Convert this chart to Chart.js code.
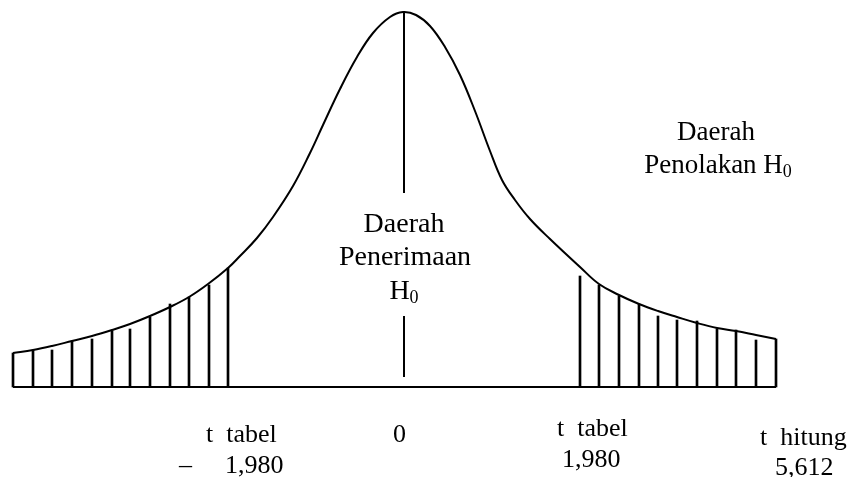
<!DOCTYPE html>
<html>
<head>
<meta charset="utf-8">
<script src="https://cdn.jsdelivr.net/npm/chart.js@4"></script>
<style>
  html, body { margin: 0; padding: 0; background: #fff; }
  #wrap { width: 850px; height: 477px; position: relative; }
</style>
</head>
<body>
<div id="wrap"><canvas id="kurva"></canvas></div>
<script>
// kurva distribusi t (satuan sumbu x = posisi, y = tinggi di atas garis dasar)
const curveX = [13, 33, 52, 72, 92, 112, 130, 150, 170, 189, 208, 228, 240, 257, 273, 293, 310, 323, 340, 357, 373, 390, 403,
                416, 430, 445, 460, 475, 490, 502, 515, 530, 550, 580, 599, 619, 639, 658, 677, 697, 717, 736, 756, 776];
const curveY = [34, 37, 41, 46, 51, 57, 63, 71, 80, 90, 103, 119, 131, 149, 170, 201, 234, 262, 298, 330, 354, 370, 375,
                372, 361, 340, 312, 276, 236, 207, 187, 168, 148, 120, 103, 92, 83, 76, 70, 64, 59, 56, 52, 48];

// garis arsiran daerah penolakan
const hatchX = [13, 33, 52, 72, 92, 112, 130, 150, 170, 189, 209, 228,
                580, 599, 619, 639, 658, 677, 697, 717, 736, 756, 776];
const hatchY = [34, 37, 37, 46, 48, 56, 58, 70, 83, 90, 102, 119,
                111, 102, 91, 83, 71, 67, 66, 58, 57, 47, 48];

// garis dasar dan garis tengah (terputus untuk teks)
const baseX = [13, 776];
const baseY = [0, 0];
const midX = [404, 404, 404, 404];
const midY = [375, 194, 71, 10];

// teks
const regionLabels = ['Daerah', 'Penerimaan', 'H'];
const rejectLabels = ['Daerah', 'Penolakan H'];
const tickTitles = ['t  tabel', '0', 't  tabel', 't  hitung'];
const tickValues = ['1,980', '', '1,980', '5,612'];

const toPts = (xs, ys) => xs.map((x, i) => ({ x: x, y: ys[i] }));
const midPts = toPts(midX, midY);
midPts.splice(2, 0, { x: 404, y: null });

const serif = '"Liberation Serif", "Times New Roman", serif';

const textPlugin = {
  id: 'teks',
  afterDraw(chart) {
    const ctx = chart.ctx;
    const sx = chart.scales.x, sy = chart.scales.y;
    const px = v => sx.getPixelForValue(v);
    const py = v => sy.getPixelForValue(v);
    ctx.save();
    ctx.fillStyle = '#000';
    ctx.textBaseline = 'alphabetic';

    // subskrip 0 setelah H
    function withSub(text, x, y, size, align) {
      ctx.font = size + 'px ' + serif;
      const w1 = ctx.measureText(text).width;
      ctx.font = Math.round(size * 0.66) + 'px ' + serif;
      const w2 = ctx.measureText('0').width;
      let left = x;
      if (align === 'center') left = x - (w1 + w2) / 2;
      ctx.textAlign = 'left';
      ctx.font = size + 'px ' + serif;
      ctx.fillText(text, left, y);
      ctx.font = Math.round(size * 0.66) + 'px ' + serif;
      ctx.fillText('0', left + w1, y + 4);
    }

    // Daerah Penerimaan H0
    ctx.textAlign = 'center';
    ctx.font = '28px ' + serif;
    ctx.fillText(regionLabels[0], px(404), py(155));
    ctx.fillText(regionLabels[1], px(405), py(122));
    withSub(regionLabels[2], px(404), py(88), 28, 'center');

    // Daerah Penolakan H0
    ctx.textAlign = 'center';
    ctx.font = '27px ' + serif;
    ctx.fillText(rejectLabels[0], px(716), py(247));
    withSub(rejectLabels[1], px(718), py(214), 27, 'center');

    // label bawah
    ctx.font = '26px ' + serif;
    ctx.textAlign = 'left';
    ctx.fillText(tickTitles[0], px(206), py(-55));
    ctx.fillText('\u2013', px(179), py(-86));
    ctx.fillText(tickValues[0], px(225), py(-86));
    ctx.fillText(tickTitles[1], px(393), py(-55));
    ctx.fillText(tickTitles[2], px(557), py(-49));
    ctx.fillText(tickValues[2], px(562), py(-80));
    ctx.fillText(tickTitles[3], px(760), py(-58));
    ctx.fillText(tickValues[3], px(775), py(-88));
    ctx.restore();
  }
};

const ctx = document.getElementById('kurva').getContext('2d');
new Chart(ctx, {
  type: 'bar',
  data: {
    datasets: [
      {
        type: 'bar',
        data: toPts(hatchX, hatchY),
        backgroundColor: '#000',
        borderWidth: 0,
        barThickness: 2,
        grouped: false
      },
      {
        type: 'line',
        data: toPts(curveX, curveY),
        borderColor: '#000',
        borderWidth: 2,
        pointRadius: 0,
        tension: 0.4,
        fill: false
      },
      {
        type: 'line',
        data: toPts(baseX, baseY),
        borderColor: '#000',
        borderWidth: 2,
        pointRadius: 0,
        fill: false
      },
      {
        type: 'line',
        data: midPts,
        borderColor: '#000',
        borderWidth: 2,
        pointRadius: 0,
        spanGaps: false,
        fill: false
      }
    ]
  },
  options: {
    responsive: true,
    maintainAspectRatio: false,
    animation: false,
    layout: { padding: 0 },
    plugins: {
      legend: { display: false },
      tooltip: { enabled: false }
    },
    scales: {
      x: { type: 'linear', min: 0, max: 850, offset: false, display: false },
      y: { type: 'linear', min: -90, max: 387, display: false }
    }
  },
  plugins: [textPlugin]
});
</script>
</body>
</html>
